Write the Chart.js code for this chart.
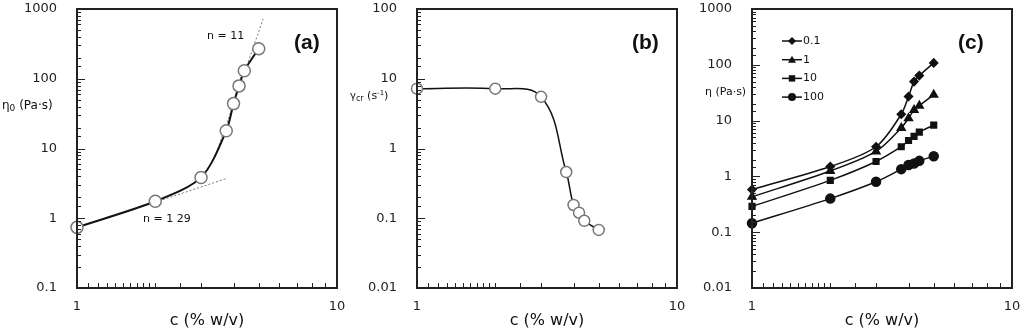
<!DOCTYPE html>
<html>
<head>
<meta charset="utf-8">
<script src="https://cdn.jsdelivr.net/npm/chart.js"></script>
<style>
html, body { margin: 0; padding: 0; background: #fff; }
#wrap { position: relative; width: 1024px; height: 334px; overflow: hidden; }
canvas { position: absolute; top: 0; }
</style>
</head>
<body>
<div id="wrap">
  <canvas id="chartA" width="350" height="334" style="left:0px"></canvas>
  <canvas id="chartB" width="350" height="334" style="left:340px"></canvas>
  <canvas id="chartC" width="344" height="334" style="left:680px"></canvas>
</div>
<script>
// concentration c (% w/v), shared by all three panels
const conc = [1, 2, 3, 3.75, 4, 4.2, 4.4, 5];

// (a) zero-shear viscosity
const eta0 = [0.74, 1.75, 3.85, 18, 44, 79, 130, 270];
// (a) power-law guide lines
const fitLowC = [2, 3.75];
const fitLowEta = [1.7, 3.7];
const fitHighC = [3.4, 5.2];
const fitHighEta = [7.7, 720];

// (b) critical shear rate
const gammaCr = [7.2, 7.2, 5.5, 0.46, 0.155, 0.12, 0.092, 0.068];

// (c) viscosity at several shear rates
const shearLabels = ["0.1", "1", "10", "100"];
const eta_01 = [0.58, 1.5, 3.4, 13, 27, 50, 64, 108];
const eta_1 = [0.43, 1.25, 2.8, 7.4, 11, 15.5, 18.5, 29];
const eta_10 = [0.29, 0.85, 1.85, 3.4, 4.4, 5.2, 6.2, 8.3];
const eta_100 = [0.145, 0.4, 0.8, 1.35, 1.6, 1.7, 1.9, 2.3];

const tickFont = { family: "DejaVu Sans", size: 13 };

function toPoints(xs, ys) {
    return xs.map((x, i) => ({ x: x, y: ys[i] }));
}

function decadeLabel(value) {
    const lg = Math.log10(value);
    if (Math.abs(lg - Math.round(lg)) > 1e-6) return "";
    return value >= 1 ? String(Math.round(value)) : String(Number(value.toPrecision(1)));
}

function drawMarker(ctx, style, x, y, r) {
    ctx.beginPath();
    if (style === "rectRot") {
        ctx.moveTo(x, y - r); ctx.lineTo(x + r, y); ctx.lineTo(x, y + r); ctx.lineTo(x - r, y);
    } else if (style === "triangle") {
        ctx.moveTo(x, y - r); ctx.lineTo(x + r, y + r * 0.75); ctx.lineTo(x - r, y + r * 0.75);
    } else if (style === "rect") {
        ctx.rect(x - r * 0.8, y - r * 0.8, r * 1.6, r * 1.6);
    } else {
        ctx.arc(x, y, r, 0, Math.PI * 2);
    }
    ctx.closePath();
    ctx.fill();
}

// frame, inward ticks, labels and legend
const decorPlugin = {
    id: "decor",
    afterDatasetsDraw(chart, args, opts) {
        const { ctx, chartArea: a, scales } = chart;
        ctx.save();
        ctx.strokeStyle = "#222";
        ctx.lineWidth = 1;
        scales.x.ticks.forEach(t => {
            const px = Math.round(scales.x.getPixelForValue(t.value)) + 0.5;
            const len = decadeLabel(t.value) ? 8 : 5;
            ctx.beginPath(); ctx.moveTo(px, a.bottom); ctx.lineTo(px, a.bottom - len); ctx.stroke();
        });
        scales.y.ticks.forEach(t => {
            const py = Math.round(scales.y.getPixelForValue(t.value)) + 0.5;
            const len = decadeLabel(t.value) ? 8 : 4;
            ctx.beginPath(); ctx.moveTo(a.left, py); ctx.lineTo(a.left + len, py); ctx.stroke();
        });
        ctx.lineWidth = 2;
        ctx.strokeRect(a.left, a.top, a.right - a.left, a.bottom - a.top);

        ctx.fillStyle = "#111";
        ctx.textBaseline = "alphabetic";
        (opts.texts || []).forEach(item => {
            let x = item.x;
            item.parts.forEach(p => {
                ctx.font = (p.bold ? "bold " : "") + p.size + "px " + (p.family || "DejaVu Sans");
                ctx.fillText(p.t, x, item.y + (p.dy || 0));
                x += ctx.measureText(p.t).width;
            });
        });

        if (opts.legend) {
            const lg = opts.legend;
            chart.data.datasets.forEach((ds, i) => {
                const y = lg.y + i * lg.step;
                ctx.strokeStyle = "#111";
                ctx.lineWidth = 1.5;
                ctx.beginPath(); ctx.moveTo(lg.x, y); ctx.lineTo(lg.x + 20, y); ctx.stroke();
                ctx.fillStyle = "#111";
                drawMarker(ctx, ds.pointStyle, lg.x + 10, y, 4);
                ctx.font = "11px DejaVu Sans";
                ctx.textBaseline = "middle";
                ctx.fillText(ds.label, lg.x + 21, y);
            });
        }
        ctx.restore();
    }
};

function makeOptions(cfg) {
    return {
        responsive: false,
        animation: false,
        devicePixelRatio: 1,
        layout: { padding: { left: 0, top: 9, right: cfg.padRight, bottom: 0 } },
        plugins: {
            legend: { display: false },
            tooltip: { enabled: false },
            decor: { texts: cfg.texts, legend: cfg.legend }
        },
        scales: {
            x: {
                type: "logarithmic",
                min: 1, max: 10,
                grid: { display: false },
                border: { display: false },
                ticks: { autoSkip: false, maxRotation: 0, padding: 3, color: "#222", font: tickFont, callback: decadeLabel },
                title: { display: true, text: "c (% w/v)", color: "#111", font: { family: "DejaVu Sans", size: 16 }, padding: { top: 0, bottom: 4 } },
                afterFit: s => { s.height = 46; s.paddingLeft = 0; s.paddingRight = 0; }
            },
            y: {
                type: "logarithmic",
                min: cfg.yMin, max: cfg.yMax,
                grid: { display: false },
                border: { display: false },
                ticks: { autoSkip: false, padding: 12, color: "#222", font: tickFont, callback: decadeLabel },
                afterFit: s => { s.width = cfg.left; s.paddingTop = 0; s.paddingBottom = 0; }
            }
        }
    };
}

const openMarker = {
    borderColor: "#111",
    pointStyle: "circle",
    pointBackgroundColor: "#fff",
    pointBorderColor: "#777",
    pointBorderWidth: 1.5,
    fill: false,
    clip: false
};

new Chart(document.getElementById("chartA"), {
    type: "line",
    data: {
        datasets: [
            Object.assign({ data: toPoints(conc, eta0), borderWidth: 2, tension: 0.3, pointRadius: 6, order: 0 }, openMarker),
            { data: toPoints(fitLowC, fitLowEta), borderColor: "#777", borderWidth: 1, borderDash: [2, 2], pointRadius: 0, order: 1 },
            { data: toPoints(fitHighC, fitHighEta), borderColor: "#777", borderWidth: 1, borderDash: [2, 2], pointRadius: 0, order: 1 }
        ]
    },
    options: makeOptions({
        left: 77, padRight: 13, yMin: 0.1, yMax: 1000,
        texts: [
            { x: 2, y: 109, parts: [{ t: "η", size: 12 }, { t: "0", size: 9, dy: 2 }, { t: " (Pa·s)", size: 12 }] },
            { x: 207, y: 39, parts: [{ t: "n = 11", size: 11 }] },
            { x: 143, y: 222, parts: [{ t: "n = 1 29", size: 11 }] },
            { x: 294, y: 49, parts: [{ t: "(a)", size: 21, bold: true, family: "Liberation Sans" }] }
        ]
    }),
    plugins: [decorPlugin]
});

new Chart(document.getElementById("chartB"), {
    type: "line",
    data: {
        datasets: [
            Object.assign({ data: toPoints(conc, gammaCr), borderWidth: 1.5, tension: 0.4, pointRadius: 5.5 }, openMarker)
        ]
    },
    options: makeOptions({
        left: 77, padRight: 13, yMin: 0.01, yMax: 100,
        texts: [
            { x: 10, y: 99, parts: [{ t: "γ", size: 10 }, { t: "cr", size: 8, dy: 2 }, { t: " (s", size: 11 }, { t: "-1", size: 7, dy: -4 }, { t: ")", size: 11 }] },
            { x: 292, y: 49, parts: [{ t: "(b)", size: 21, bold: true, family: "Liberation Sans" }] }
        ]
    }),
    plugins: [decorPlugin]
});

const seriesC = [eta_01, eta_1, eta_10, eta_100];
const stylesC = ["rectRot", "triangle", "rect", "circle"];
const radiiC = [4, 4.5, 4, 4.5];

new Chart(document.getElementById("chartC"), {
    type: "line",
    data: {
        datasets: seriesC.map((vals, i) => ({
            label: shearLabels[i],
            data: toPoints(conc, vals),
            borderColor: "#111",
            borderWidth: 1.5,
            tension: 0.3,
            pointStyle: stylesC[i],
            pointRadius: radiiC[i],
            pointBackgroundColor: "#111",
            pointBorderColor: "#111",
            fill: false,
            clip: false
        }))
    },
    options: makeOptions({
        left: 72, padRight: 12, yMin: 0.01, yMax: 1000,
        texts: [
            { x: 25, y: 95, parts: [{ t: "η (Pa·s)", size: 11 }] },
            { x: 278, y: 49, parts: [{ t: "(c)", size: 21, bold: true, family: "Liberation Sans" }] }
        ],
        legend: { x: 102, y: 41, step: 18.7 }
    }),
    plugins: [decorPlugin]
});
</script>
</body>
</html>
